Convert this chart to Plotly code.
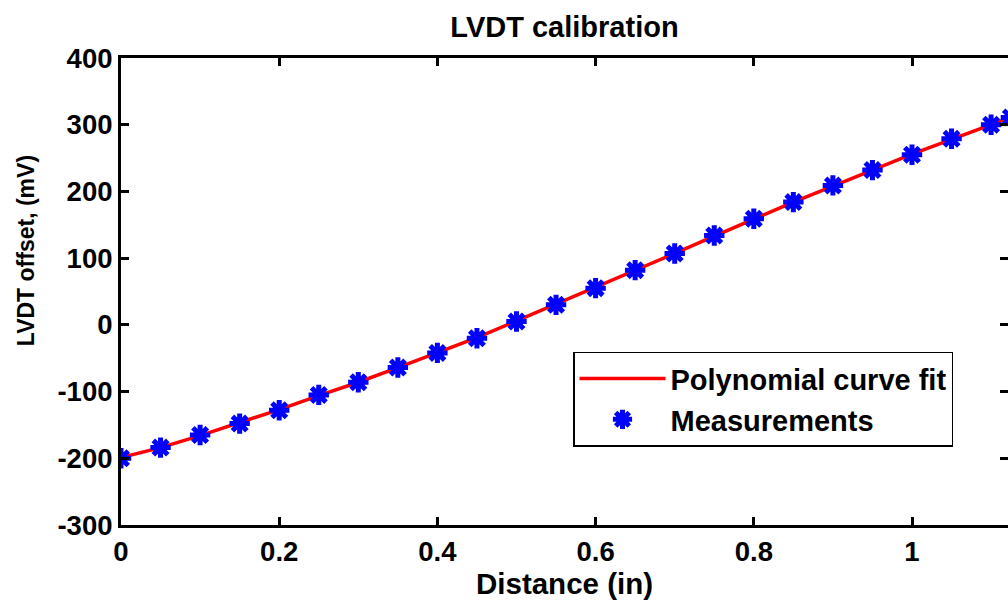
import plotly.graph_objects as go

# ---- data ----
meas_x = [0.0, 0.05, 0.10, 0.15, 0.20, 0.25, 0.30, 0.35, 0.40, 0.45, 0.50, 0.55,
          0.60, 0.65, 0.70, 0.75, 0.80, 0.85, 0.90, 0.95, 1.00, 1.05, 1.10, 1.125]
meas_y = [-200, -184, -165, -148, -128, -105, -86, -64, -42, -20, 5, 30,
          55, 82, 107, 134, 159, 184, 209, 232, 255, 279, 300, 311]

fit_x = [0.0, 0.05, 0.10, 0.15, 0.20, 0.25, 0.30, 0.35, 0.40, 0.45, 0.50, 0.55,
         0.60, 0.65, 0.70, 0.75, 0.80, 0.85, 0.90, 0.95, 1.00, 1.05, 1.10, 1.15]
fit_y = [-199, -184, -166, -147, -127, -106, -86, -64, -42, -19, 6, 31,
         56, 82, 107, 133, 159, 184, 208, 232, 256, 278, 300, 322]

x_ticks = [0, 0.2, 0.4, 0.6, 0.8, 1.0]
x_tick_labels = ["0", "0.2", "0.4", "0.6", "0.8", "1"]
y_ticks = [-300, -200, -100, 0, 100, 200, 300, 400]
y_tick_labels = ["-300", "-200", "-100", "0", "100", "200", "300", "400"]

title_text = "LVDT calibration"
x_label = "Distance (in)"
y_label = "LVDT offset, (mV)"

FONT = "Liberation Sans, Arial, Helvetica, sans-serif"

fig = go.Figure()
fig.add_trace(go.Scatter(
    x=fit_x, y=fit_y, mode="lines", name="Polynomial curve fit",
    line=dict(color="#ff0000", width=3.5),
))
fig.add_trace(go.Scatter(
    x=meas_x, y=meas_y, mode="markers", name="Measurements", yaxis="y2",
    marker=dict(symbol="asterisk-open", size=17, color="#0000ff",
                line=dict(color="#0000ff", width=5)),
))

axis_common = dict(
    ticks="inside", ticklen=8, tickwidth=2.5, tickcolor="black",
    showgrid=False, zeroline=False,
    tickfont=dict(family=FONT, size=27.5, color="black", weight="bold"),
)

fig.update_layout(
    width=1008, height=600,
    margin=dict(l=121, r=0, t=58, b=73),
    paper_bgcolor="white", plot_bgcolor="white",
    font=dict(family=FONT, color="black", weight="bold"),
    title=dict(text=title_text, x=0.5, xref="paper", xanchor="center",
               y=1 - 27 / 600, yref="container", yanchor="middle",
               font=dict(family=FONT, size=29, color="black", weight="bold")),
    xaxis=dict(range=[0, 887 / 791], tickvals=x_ticks, ticktext=x_tick_labels,
               showline=True, linewidth=3, linecolor="black", mirror="ticks",
               ticklabelstandoff=0,
               title=dict(text=x_label, standoff=12,
                          font=dict(family=FONT, size=29.5, color="black", weight="bold")),
               **axis_common),
    yaxis=dict(range=[-300, 400], tickvals=y_ticks, ticktext=y_tick_labels,
               showline=True, linewidth=3, linecolor="black", mirror=False,
               ticklabelstandoff=0,
               **axis_common),
    yaxis2=dict(range=[-300, 400], tickvals=y_ticks, overlaying="y", side="right",
                anchor="x", showline=False, showticklabels=False,
                ticks="inside", ticklen=8, tickwidth=2.5, tickcolor="black",
                showgrid=False, zeroline=False),
    legend=dict(x=(573 - 121) / 887, y=(527 - 353) / 469, xanchor="left", yanchor="top",
                bgcolor="white", bordercolor="black", borderwidth=1.5,
                itemwidth=86, tracegroupgap=0,
                font=dict(family=FONT, size=29, color="black", weight="bold")),
    showlegend=True,
    annotations=[dict(text=y_label, textangle=-90, xref="paper", yref="paper",
                      x=(26 - 121) / 887, y=(527 - 252) / 469,
                      xanchor="center", yanchor="middle", showarrow=False,
                      font=dict(family=FONT, size=23, color="black", weight="bold"))],
)

fig.write_html("out.html")
